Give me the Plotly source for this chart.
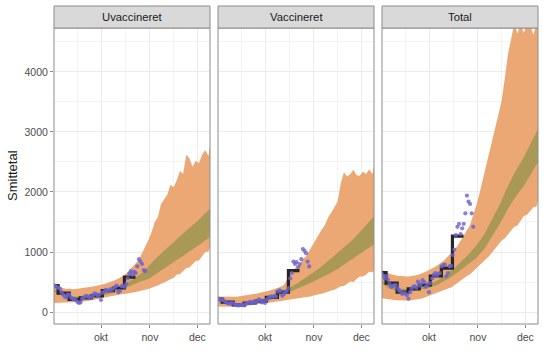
import plotly.graph_objects as go
from datetime import datetime, timedelta

panels = ["Uvaccineret", "Vaccineret", "Total"]
start = datetime(2021, 9, 1)

# observed daily counts (day 0 = 1 Sep)
obs_days = list(range(59))
obs_uvac = [450, 430, 420,
            400, 390, 330, 290, 260, 240, 295,
            280, 240, 220, 210, 200, 170, 150,
            160, 220, 240, 260, 270, 250, 245,
            250, 280, 310, 300, 260, 290, 200,
            320, 340, 370, 360, 350, 380, 365,
            400, 420, 440, 330, 350, 430, 430,
            420, 470, 560, 640, 680, 620, 670,
            650, 760, 880, 840, 800, 700, 680]
obs_vac = [220, 210, 210,
           200, 190, 170, 150, 140, 140, 165,
           140, 125, 115, 110, 115, 120, 115,
           110, 140, 150, 160, 170, 160, 160,
           170, 180, 210, 200, 160, 190, 150,
           200, 230, 250, 260, 250, 270, 255,
           340, 360, 350, 270, 300, 340, 350,
           400, 560, 650, 840, 800, 830, 750,
           800, 880, 1050, 1020, 980, 840, 760]
obs_tot = [640, 600, 560,
           600, 540, 470, 420, 430, 450, 450,
           400, 360, 340, 300, 320, 310, 280,
           220, 330, 390, 420, 430, 400, 505,
           440, 470, 530, 500, 420, 460, 330,
           480, 560, 620, 650, 600, 640, 650,
           760, 780, 790, 600, 650, 760, 770,
           950, 1040, 1280, 1420, 1470, 1300, 1395,
           1470, 1645, 1940, 1840, 1800, 1645, 1420]

# weekly averages (step line)
step_x = ["2021-09-01", "2021-09-03 20:00", "2021-09-10 20:00", "2021-09-17 20:00",
          "2021-09-24 20:00", "2021-10-01 20:00", "2021-10-08 20:00",
          "2021-10-15 20:00", "2021-10-22 20:00"]
step_uvac = [438, 315, 210, 235, 270, 355, 400, 580, 580]
step_vac = [215, 165, 120, 150, 180, 245, 330, 690, 690]
step_tot = [655, 480, 330, 385, 450, 600, 730, 1265, 1265]

# outer prediction interval (days 0,2,...,98,99)
rib_days = list(range(0, 100, 2)) + [99]
p1_lo = [150, 146, 145, 150, 148, 152, 160, 158, 168, 170,
         180, 188, 200, 205, 222, 230, 240, 252, 260, 272,
         282, 290, 298, 305, 310, 325, 335, 345, 362, 370,
         385, 400, 425, 440, 470, 490, 510, 545, 570, 625,
         630, 690, 735, 740, 790, 850, 860, 930, 1000, 1010, 1070]
p1_hi = [460, 430, 410, 400, 385, 390, 378, 385, 390, 395,
         400, 410, 420, 430, 440, 450, 465, 485, 500, 520,
         545, 570, 600, 640, 700, 760, 820, 870, 980, 1080,
         1200, 1330, 1500, 1580, 1800, 1880, 1960, 2120, 2080, 2200,
         2350, 2300, 2620, 2560, 2420, 2520, 2480, 2620, 2700, 2600, 2780]
p2_lo = [90, 92, 88, 88, 90, 90, 92, 94, 97, 100,
         107, 112, 120, 126, 134, 140, 147, 155, 165, 175,
         183, 190, 197, 203, 215, 220, 230, 240, 250, 255,
         265, 278, 295, 305, 325, 340, 360, 370, 395, 430,
         435, 465, 510, 500, 550, 590, 590, 620, 670, 660, 700]
p2_hi = [260, 258, 255, 250, 250, 252, 255, 262, 268, 275,
         285, 295, 305, 315, 328, 340, 352, 368, 385, 400,
         420, 450, 540, 640, 700, 760, 800, 880, 930, 1020,
         1120, 1190, 1280, 1380, 1450, 1580, 1660, 1760, 1840, 2150,
         2330, 2260, 2300, 2370, 2280, 2270, 2340, 2300, 2380, 2300, 2450]
p3_lo = [230, 222, 215, 205, 198, 195, 190, 190, 192, 195,
         198, 205, 215, 228, 245, 260, 280, 300, 320, 345,
         370, 390, 410, 440, 490, 530, 560, 600, 630, 680,
         730, 770, 830, 880, 930, 990, 1060, 1120, 1190, 1230,
         1290, 1350, 1420, 1440, 1520, 1600, 1620, 1680, 1740, 1760, 1850]
p3_hi = [700, 670, 650, 630, 615, 605, 598, 592, 590, 595,
         600, 612, 630, 648, 672, 700, 725, 755, 790, 830,
         870, 930, 980, 1030, 1100, 1190, 1260, 1350, 1450, 1620,
         1780, 1980, 2200, 2420, 2650, 2880, 3100, 3320, 3520, 3900,
         4300, 4550, 4800, 4640, 4800, 4650, 4800, 4800, 4620, 4800, 4800]

# inner (median) band
band_days = list(range(0, 100, 5)) + [99]
b1_lo = [340, 280, 240, 225, 225, 240, 265, 300, 340, 390, 450, 510, 550, 640, 720, 810, 900, 990, 1080, 1170, 1250]
b1_hi = [380, 315, 270, 255, 258, 275, 305, 345, 395, 460, 540, 630, 760, 900, 1020, 1140, 1270, 1380, 1490, 1610, 1720]
b2_lo = [190, 155, 130, 128, 138, 155, 180, 210, 270, 330, 380, 440, 500, 560, 630, 700, 790, 880, 970, 1060, 1130]
b2_hi = [215, 175, 150, 148, 160, 180, 210, 245, 320, 400, 470, 560, 650, 740, 850, 960, 1070, 1190, 1330, 1470, 1590]
b3_lo = [480, 390, 350, 340, 350, 370, 400, 450, 520, 600, 700, 800, 900, 1050, 1270, 1480, 1720, 1930, 2100, 2320, 2500]
b3_hi = [530, 440, 395, 385, 395, 420, 460, 520, 610, 710, 830, 960, 1110, 1290, 1550, 1800, 2100, 2360, 2580, 2850, 3050]

y_ticks = [0, 1000, 2000, 3000, 4000]
y_minor = [500, 1500, 2500, 3500, 4500]
x_ticks = ["2021-10-01", "2021-11-01", "2021-12-01"]
x_ticktext = ["okt", "nov", "dec"]
x_minor = ["2021-09-16", "2021-10-16 12:00", "2021-11-16"]


def to_dates(days):
    return [(start + timedelta(days=d)).strftime("%Y-%m-%d") for d in days]


RIB = "#EBA774"
BAND = "#A99856"
PT = "#6A62CF"
W, H = 557, 355
px_x = [(54, 210), (218, 374), (382, 538)]
top_px, bot_px = 28, 324

data = [
    (obs_uvac, step_uvac, p1_lo, p1_hi, b1_lo, b1_hi),
    (obs_vac, step_vac, p2_lo, p2_hi, b2_lo, b2_hi),
    (obs_tot, step_tot, p3_lo, p3_hi, b3_lo, b3_hi),
]

fig = go.Figure()
rd = to_dates(rib_days)
bd = to_dates(band_days)
od = to_dates(obs_days)
for i, (obs, step, lo, hi, blo, bhi) in enumerate(data):
    xa = "x" if i == 0 else f"x{i+1}"
    ya = "y" if i == 0 else f"y{i+1}"
    fig.add_trace(go.Scatter(x=rd + rd[::-1], y=hi + lo[::-1], fill="toself", fillcolor=RIB,
                             line=dict(width=0), mode="lines", xaxis=xa, yaxis=ya, hoverinfo="skip"))
    fig.add_trace(go.Scatter(x=bd + bd[::-1], y=bhi + blo[::-1], fill="toself", fillcolor=BAND,
                             line=dict(width=0), mode="lines", xaxis=xa, yaxis=ya, hoverinfo="skip"))
    fig.add_trace(go.Scatter(x=step_x, y=step, mode="lines", line=dict(color="#262626", width=3.2, shape="hv"),
                             xaxis=xa, yaxis=ya))
    fig.add_trace(go.Scatter(x=od, y=obs, mode="markers", marker=dict(color=PT, size=4.2, opacity=0.8),
                             xaxis=xa, yaxis=ya, cliponaxis=True))

layout = dict(width=W, height=H, margin=dict(l=0, r=0, t=0, b=0), plot_bgcolor="white",
              paper_bgcolor="white", showlegend=False,
              font=dict(family="Liberation Sans, Arial, sans-serif", size=10.5, color="#4D4D4D"))
ydom = [1 - bot_px / H, 1 - top_px / H]
shapes = []
annotations = []
for i in range(3):
    x0, x1 = px_x[i]
    sfx = "" if i == 0 else str(i + 1)
    layout["xaxis" + sfx] = dict(
        domain=[x0 / W, x1 / W], anchor="y" + sfx, type="date",
        range=["2021-09-01 06:00", "2021-12-09"], tickvals=x_ticks, ticktext=x_ticktext,
        ticks="outside", ticklen=3, tickcolor="#888888", tickwidth=1,
        showgrid=True, gridcolor="#EBEBEB", gridwidth=1.1, zeroline=False, showline=False,
        minor=dict(tickvals=x_minor, showgrid=True, gridcolor="#F3F3F3", gridwidth=0.7),
        tickfont=dict(size=10.5, color="#4D4D4D"))
    layout["yaxis" + sfx] = dict(
        domain=ydom, anchor="x" + sfx, range=[-200, 4733], tickvals=y_ticks,
        showticklabels=(i == 0), ticks="outside" if i == 0 else "", ticklen=3,
        tickcolor="#888888", showgrid=True, gridcolor="#EBEBEB", gridwidth=1.1,
        zeroline=False, showline=False,
        minor=dict(tickvals=y_minor, showgrid=True, gridcolor="#F3F3F3", gridwidth=0.7),
        tickfont=dict(size=10.5, color="#4D4D4D"))
    shapes.append(dict(type="rect", xref="paper", yref="paper", x0=x0 / W, x1=x1 / W,
                       y0=ydom[0], y1=ydom[1], line=dict(color="#8C8C8C", width=1)))
    shapes.append(dict(type="rect", xref="paper", yref="paper", x0=x0 / W, x1=x1 / W,
                       y0=1 - top_px / H, y1=1 - 6 / H, fillcolor="#D9D9D9",
                       line=dict(color="#8C8C8C", width=1)))
    annotations.append(dict(text=panels[i], xref="paper", yref="paper", x=(x0 + x1) / 2 / W,
                            y=1 - 17 / H, showarrow=False, xanchor="center", yanchor="middle",
                            font=dict(size=11.3, color="#1A1A1A")))
annotations.append(dict(text="Smittetal", xref="paper", yref="paper", x=12 / W, y=1 - 176 / H,
                        textangle=-90, showarrow=False, xanchor="center", yanchor="middle",
                        font=dict(size=13, color="#1A1A1A")))
layout["shapes"] = shapes
layout["annotations"] = annotations
fig.update_layout(**layout)
fig.write_html("out.html", config={"displayModeBar": False},
               post_script="document.body.style.margin='0';document.body.style.overflow='hidden';")
